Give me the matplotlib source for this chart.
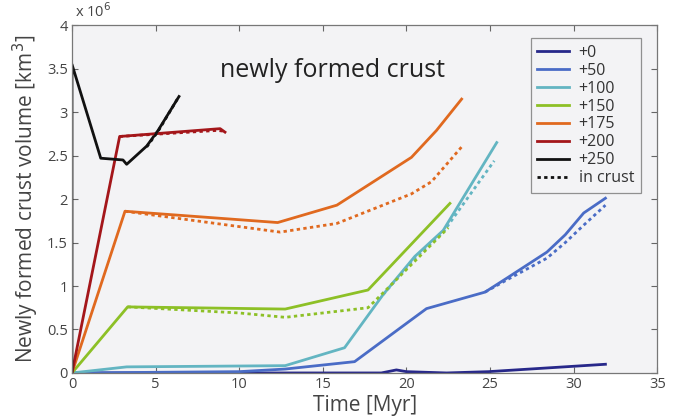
import numpy as np
import matplotlib.pyplot as plt
from matplotlib.ticker import FuncFormatter
from matplotlib.lines import Line2D

plt.rcParams['font.family'] = ['Open Sans', 'DejaVu Sans']

# 各情形的新生地壳体积 (单位 10^6 km^3) 随时间 (Myr) 的变化
t_0 = [0, 10.0, 18.5, 19.4, 20.0, 22.4, 24.9, 31.9]
v_0 = [0, 0.0, 0.0, 0.035, 0.015, 0.0, 0.015, 0.10]

t_50 = [0, 10.0, 12.75, 16.9, 20.0, 21.2, 24.7, 26.0, 28.4, 29.5, 30.6, 31.9]
v_50 = [0, 0.015, 0.045, 0.13, 0.57, 0.74, 0.93, 1.09, 1.39, 1.59, 1.84, 2.01]
t_50c = [24.7, 26.0, 28.4, 29.5, 30.6, 31.9]
v_50c = [0.93, 1.07, 1.32, 1.50, 1.70, 1.93]

t_100 = [0, 3.27, 12.75, 16.3, 18.6, 20.5, 22.2, 25.4]
v_100 = [0, 0.07, 0.084, 0.29, 0.90, 1.34, 1.64, 2.65]
t_100c = [18.6, 20.5, 22.2, 25.25]
v_100c = [0.90, 1.32, 1.62, 2.44]

t_150 = [0, 3.33, 12.75, 17.7, 22.6]
v_150 = [0, 0.76, 0.735, 0.954, 1.95]
t_150c = [3.33, 10.0, 12.75, 17.7, 18.6, 22.5]
v_150c = [0.76, 0.69, 0.64, 0.75, 0.92, 1.67]

t_175 = [0, 3.17, 12.3, 15.84, 20.3, 21.8, 23.3]
v_175 = [0, 1.86, 1.73, 1.93, 2.48, 2.79, 3.15]
t_175c = [3.17, 12.45, 15.84, 20.3, 21.5, 23.3]
v_175c = [1.86, 1.62, 1.72, 2.06, 2.20, 2.60]

t_200 = [0, 2.85, 8.86, 9.15]
v_200 = [0, 2.72, 2.81, 2.77]
t_200c = [2.85, 8.7, 9.1]
v_200c = [2.72, 2.79, 2.78]

t_250 = [0, 0, 1.72, 3.05, 3.27, 4.47, 5.15, 6.4]
v_250 = [0, 3.55, 2.47, 2.45, 2.40, 2.61, 2.79, 3.18]
t_250c = [4.47, 5.15, 6.3]
v_250c = [2.60, 2.78, 3.15]

labels = ['+0', '+50', '+100', '+150', '+175', '+200', '+250']
colors = ['#27288a', '#4a6cc6', '#63b5c2', '#8dc026', '#e0691f', '#a4161a', '#111111']

solid = [(t_0, v_0), (t_50, v_50), (t_100, v_100), (t_150, v_150),
         (t_175, v_175), (t_200, v_200), (t_250, v_250)]
crust = [None, (t_50c, v_50c), (t_100c, v_100c), (t_150c, v_150c),
         (t_175c, v_175c), (t_200c, v_200c), (t_250c, v_250c)]

fig = plt.figure(figsize=(6.79, 4.2), dpi=100)
ax = fig.add_axes([0.106, 0.112, 0.862, 0.828])
ax.set_facecolor('#f3f3f5')

lw = 2.0
for (t, v), c in zip(solid, colors):
    ax.plot(t, v, color=c, lw=lw, solid_joinstyle='round')
for d, c in zip(crust, colors):
    if d is not None:
        ax.plot(d[0], d[1], color=c, lw=lw, linestyle=(0, (1.2, 1.2)))

ax.set_xlim(0, 35)
ax.set_ylim(0, 4)
ax.set_xticks(np.arange(0, 36, 5))
ax.set_yticks(np.arange(0, 4.01, 0.5))
ax.yaxis.set_major_formatter(FuncFormatter(lambda y, p: '%g' % y))
ax.tick_params(direction='in', top=True, right=True, length=4,
               labelsize=10.5, labelcolor='#444444', color='#666666', pad=3)
for s in ax.spines.values():
    s.set_color('#777777')
    s.set_linewidth(0.9)

ax.set_xlabel('Time [Myr]', fontsize=15, color='#444444', labelpad=2)
ax.set_ylabel('Newly formed crust volume [km$^3$]', fontsize=15, color='#444444', labelpad=4)
ax.text(0.005, 1.012, 'x 10$^6$', transform=ax.transAxes, fontsize=10.5,
        color='#444444', va='bottom')
ax.text(0.445, 0.87, 'newly formed crust', transform=ax.transAxes,
        fontsize=18, color='#222222', ha='center', va='center')

handles = [Line2D([0], [0], color=c, lw=lw) for c in colors]
handles.append(Line2D([0], [0], color='#111111', lw=lw, linestyle=(0, (1.2, 1.2))))
leg = ax.legend(handles, labels + ['in crust'], loc='upper right',
                bbox_to_anchor=(0.985, 0.985), fontsize=11.5, frameon=True,
                fancybox=False, edgecolor='#777777', facecolor='#f3f3f5',
                handlelength=2.0, handletextpad=0.6, labelspacing=0.12,
                borderpad=0.4)
leg.get_frame().set_linewidth(0.9)
for txt in leg.get_texts():
    txt.set_color('#333333')

fig.savefig('out.png', dpi=100)
